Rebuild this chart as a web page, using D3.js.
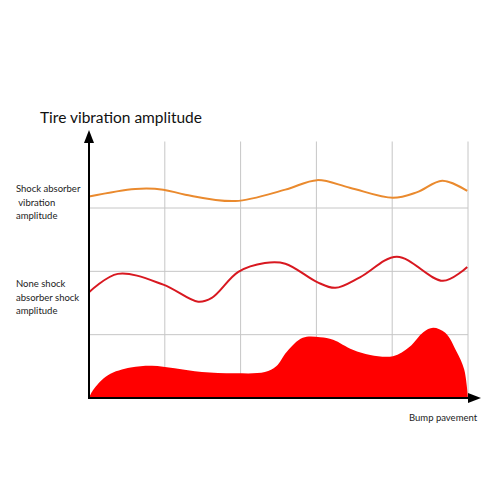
<!DOCTYPE html>
<html><head><meta charset="utf-8">
<script src="https://cdn.jsdelivr.net/npm/d3@7"></script>
<style>body{margin:0;background:#fff}svg{display:block}</style>
</head><body>
<svg id="c" width="500" height="500"></svg>
<script>
const title = "Tire vibration amplitude";
const xLabel = "Bump pavement";
const orangeLabel = ["Shock absorber", " vibration", "amplitude"];
const redLabel = ["None shock", "absorber shock", "amplitude"];
const gridX = [1, 2, 3, 4, 5];
const gridY = [1, 2, 3];

const orangeX = [0, 0.61, 0.98, 1.27, 1.93, 2.59, 3.01, 3.44, 4.01, 4.33, 4.66, 4.99];
const orangeY = [3.18, 3.30, 3.29, 3.21, 3.11, 3.29, 3.44, 3.32, 3.16, 3.25, 3.43, 3.27];

const redX = [0, 0.38, 0.98, 1.44, 1.62, 1.97, 2.32, 2.59, 3.01, 3.25, 3.58, 4.06, 4.67, 4.99];
const redY = [1.67, 1.96, 1.79, 1.52, 1.58, 1.99, 2.13, 2.12, 1.83, 1.74, 1.91, 2.23, 1.85, 2.07];

const bumpX = [0, 0.05, 0.25, 0.55, 0.83, 1.13, 1.49, 1.93, 2.32, 2.47, 2.61, 2.82, 3.05, 3.22, 3.48, 3.71, 4.01, 4.23, 4.41, 4.54, 4.70, 4.85, 4.95, 5.0];
const bumpY = [0, 0.12, 0.36, 0.48, 0.51, 0.47, 0.41, 0.39, 0.41, 0.50, 0.73, 0.95, 0.96, 0.92, 0.76, 0.68, 0.66, 0.81, 1.04, 1.11, 1.03, 0.73, 0.45, 0];

const svg = d3.select("#c");
const x = d3.scaleLinear().domain([0, 5]).range([89, 468]);
const y = d3.scaleLinear().domain([0, 4.2]).range([398, 132]);
const font = "Lato, 'Noto Sans', sans-serif";

// grid
svg.append("g").selectAll("line.v").data(gridX).join("line")
  .attr("x1", d => x(d)).attr("x2", d => x(d))
  .attr("y1", y(4.05)).attr("y2", y(0))
  .attr("stroke", "#c6c6c6").attr("stroke-width", 1);
svg.append("g").selectAll("line.h").data(gridY).join("line")
  .attr("x1", x(0)).attr("x2", x(5))
  .attr("y1", d => y(d)).attr("y2", d => y(d))
  .attr("stroke", "#c6c6c6").attr("stroke-width", 1);

// bump area
const bump = bumpX.map((v, i) => [v, bumpY[i]]);
svg.append("path").datum(bump)
  .attr("d", d3.area().x(d => x(d[0])).y0(y(0)).y1(d => y(d[1])).curve(d3.curveCatmullRom.alpha(0.5)))
  .attr("fill", "#ff0000");

// lines
const line = d3.line().x(d => x(d[0])).y(d => y(d[1])).curve(d3.curveCatmullRom.alpha(0.5));
svg.append("path").datum(orangeX.map((v, i) => [v, orangeY[i]]))
  .attr("d", line).attr("fill", "none").attr("stroke", "#ea8a2e").attr("stroke-width", 2);
svg.append("path").datum(redX.map((v, i) => [v, redY[i]]))
  .attr("d", line).attr("fill", "none").attr("stroke", "#d81820").attr("stroke-width", 2);

// axes
svg.append("line").attr("x1", x(0)).attr("x2", x(0)).attr("y1", y(0) + 1).attr("y2", 140)
  .attr("stroke", "#000").attr("stroke-width", 2);
svg.append("path").attr("d", `M${x(0)},130 L${x(0) - 5},143 L${x(0) + 5},143 Z`).attr("fill", "#000");
svg.append("line").attr("x1", x(0) - 1).attr("x2", 470).attr("y1", y(0)).attr("y2", y(0))
  .attr("stroke", "#000").attr("stroke-width", 2);
svg.append("path").attr("d", `M481,${y(0)} L468,${y(0) - 5} L468,${y(0) + 5} Z`).attr("fill", "#000");

// text
svg.append("text").attr("x", 40).attr("y", 123).text(title)
  .attr("font-family", font).attr("font-size", 15.5).attr("fill", "#111");
svg.append("text").attr("x", 409).attr("y", 421).text(xLabel)
  .attr("font-family", font).attr("font-size", 9.5).attr("fill", "#222");
svg.append("g").selectAll("text").data(orangeLabel).join("text")
  .attr("x", 16).attr("y", (d, i) => 192 + i * 13.5).text(d => d)
  .style("white-space", "pre")
  .attr("font-family", font).attr("font-size", 9.5).attr("fill", "#222");
svg.append("g").selectAll("text").data(redLabel).join("text")
  .attr("x", 16).attr("y", (d, i) => 287 + i * 13.5).text(d => d)
  .attr("font-family", font).attr("font-size", 9.5).attr("fill", "#222");
</script>
</body></html>
